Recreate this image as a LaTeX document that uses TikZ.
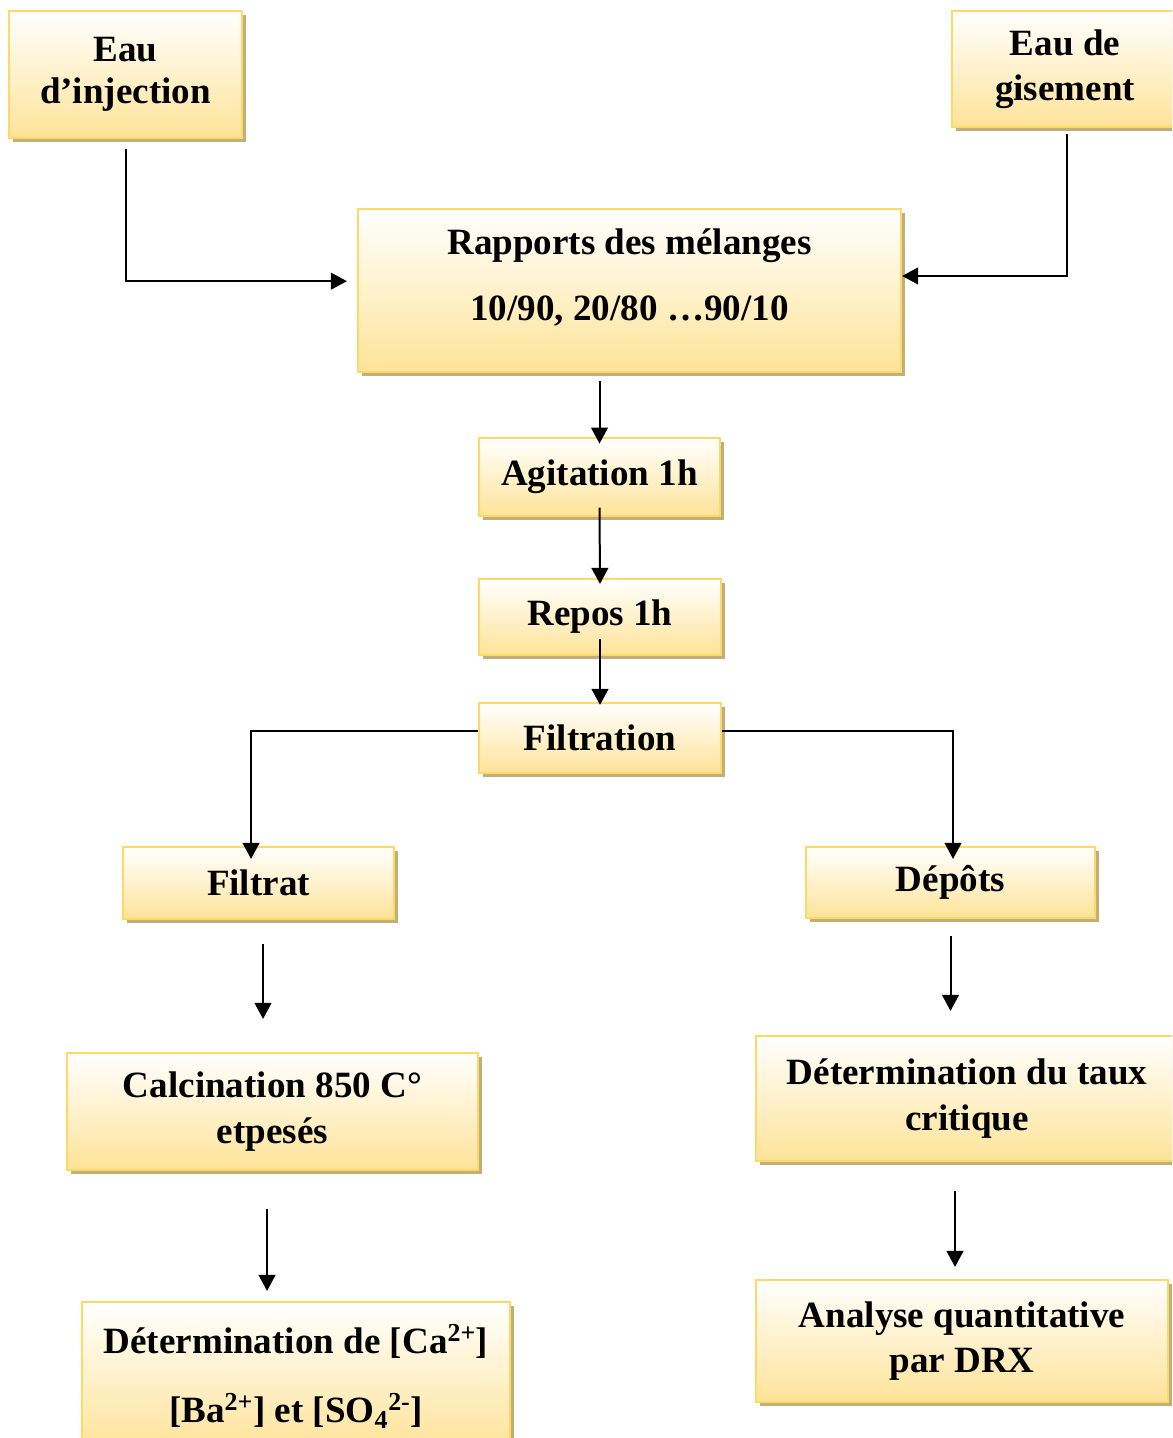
\documentclass[tikz,border=0pt]{standalone}
\usepackage{fontspec}
\setmainfont{Liberation Serif}
\usetikzlibrary{arrows.meta,shadows}

\definecolor{boxline}{HTML}{FFD966}
\definecolor{boxfill}{HTML}{FEE398}
\definecolor{boxshadow}{HTML}{BFAF7A}

\begin{document}
\begin{tikzpicture}[x=0.75pt,y=-0.75pt,
		box/.style={draw=boxline,line width=1.6pt,top color=white,bottom color=boxfill,
			drop shadow={shadow xshift=2.8pt,shadow yshift=-2.8pt,fill=boxshadow,opacity=1},
			align=center,inner sep=0pt,font=\fontsize{27.8}{34}\selectfont\bfseries},
		arr/.style={line width=1.5pt,-{Triangle[width=12.5pt,length=12pt]}}]
	\useasboundingbox (0,0) rectangle (1172,1438);
	\clip (0,0) rectangle (1172,1438);

	% SOURCES
	\node[box,minimum width=174.75pt,minimum height=95.25pt] (inj) at (125.5,74.5) {Eau\\[-2.5pt]d’injection};
	\node[box,minimum width=169.5pt,minimum height=87pt] (gis) at (1065,69) {Eau de\\gisement};

	% MELANGE
	\node[box,minimum width=407.25pt,minimum height=122.25pt] (rap) at (629.5,290.5) {Rapports des mélanges\\[16pt]10/90, 20/80 …90/10\rule[-24pt]{0pt}{24pt}};
	\node[box,minimum width=180.75pt,minimum height=58.5pt] (agi) at (599.5,477) {Agitation 1h};
	\node[box,minimum width=181.5pt,minimum height=57pt] (rep) at (600,617) {Repos 1h};
	\node[box,minimum width=181.5pt,minimum height=52.5pt] (fil) at (600,738) {Filtration};

	% FILTRAT
	\node[box,minimum width=203.25pt,minimum height=54pt] (fit) at (258.5,883) {Filtrat};
	\node[box,minimum width=308.25pt,minimum height=87.75pt] (cal) at (272.5,1111.5) {Calcination 850 C°\\etpesés};
	\node[box,minimum width=321pt,minimum height=111pt] (ca) at (296,1376) {Détermination de [Ca\textsuperscript{2+}]\\[18pt][Ba\textsuperscript{2+}] et [SO\textsubscript{4}\textsuperscript{2-}]};

	% DEPOTS
	\node[box,minimum width=216.75pt,minimum height=53.25pt] (dep) at (950.5,882.5) {\raisebox{-1.5pt}{Dépôts}};
	\node[box,minimum width=316.5pt,minimum height=93.75pt] (tau) at (967,1098.5) {Détermination du taux\\critique};
	\node[box,minimum width=309pt,minimum height=91.5pt] (ana) at (962,1341) {Analyse quantitative\\par DRX};

	% CONNECTEURS
	\draw[arr] ([yshift=-7.5pt]inj.south) |- ([xshift=-7.5pt,yshift=7pt]rap.west);
	\draw[arr] ([xshift=1.5pt,yshift=-4.5pt]gis.south) |- ([yshift=10.9pt]rap.east);
	\draw[arr] ([yshift=-6pt]rap.south -| agi.north) -- ([yshift=-5pt]agi.north);
	\draw[arr] ([yshift=7pt]agi.south) -- ([yshift=-4.5pt]rep.north);
	\draw[arr] ([yshift=12.75pt]rep.south) -- ([yshift=-2.25pt]fil.north);
	\draw[arr] ([yshift=5.25pt]fil.west) -| ([xshift=-5.6pt,yshift=-9.75pt]fit.north);
	\draw[arr] ([yshift=5.25pt]fil.east) -| ([xshift=1.9pt,yshift=-9.75pt]dep.north);
	\draw[arr] ([xshift=3.4pt,yshift=-18pt]fit.south) -- ([xshift=3.4pt,yshift=24.75pt]fit.south |- cal.north);
	\draw[arr] ([yshift=-12.75pt]dep.south) -- ([yshift=18pt]dep.south |- tau.north);
	\draw[arr] ([xshift=-4.1pt,yshift=-28.5pt]cal.south) -- ([xshift=-4.1pt,yshift=7.5pt]cal.south |- ca.north);
	\draw[arr] ([xshift=-9pt,yshift=-21.75pt]tau.south) -- ([xshift=-9pt,yshift=9pt]tau.south |- ana.north);
\end{tikzpicture}
\end{document}
